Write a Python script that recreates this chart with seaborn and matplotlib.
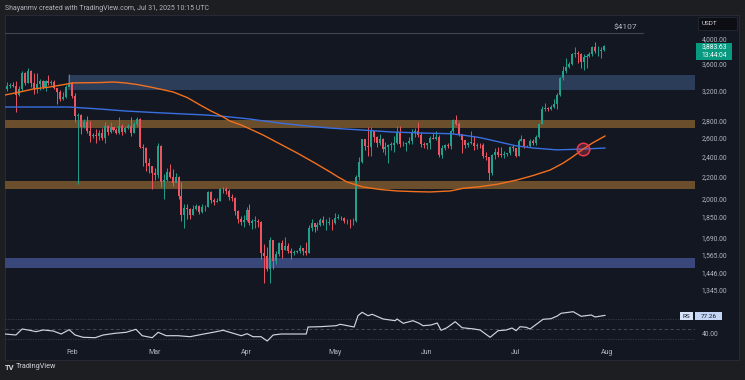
import numpy as np
import pandas as pd
import matplotlib
matplotlib.use("Agg")
import matplotlib.pyplot as plt
import matplotlib.dates as mdates
from matplotlib.patches import Rectangle
import seaborn as sns

# ---------------- data ----------------
start_date = "2025-01-10"
first_open = 3220
closes = [
    # Jan 10-31
    3265, 3282, 3265, 3136, 3225, 3450, 3308, 3474, 3307, 3214, 3284, 3327, 3240, 3339, 3306, 3316,
    3233, 3179, 3080, 3113, 3247, 3300,
    # Feb
    3123, 2868, 2880, 2733, 2785, 2686, 2622, 2632, 2628, 2660, 2600, 2740, 2675, 2725, 2694, 2660,
    2744, 2671, 2717, 2741, 2663, 2763, 2820, 2500, 2490, 2335, 2306, 2237,
    # Mar
    2218, 2515, 2150, 2170, 2240, 2200, 2140, 2200, 2020, 1865, 1920, 1910, 1865, 1910, 1935, 1885,
    1925, 1930, 2055, 1985, 1965, 1980, 2085, 2080, 2070, 2010, 2005, 1895, 1825, 1805, 1822,
    # Apr
    1905, 1795, 1815, 1815, 1805, 1580, 1555, 1470, 1670, 1525, 1570, 1645, 1595, 1625, 1590, 1575,
    1585, 1590, 1615, 1590, 1580, 1755, 1795, 1770, 1785, 1820, 1795, 1800, 1800, 1795,
    # May
    1840, 1840, 1835, 1810, 1815, 1810, 1810, 2200, 2345, 2585, 2510, 2500, 2680, 2610, 2545, 2590,
    2475, 2500, 2525, 2525, 2550, 2665, 2530, 2530, 2550, 2565, 2660, 2680, 2630, 2530, 2525,
    # Jun
    2540, 2605, 2595, 2610, 2415, 2485, 2520, 2510, 2680, 2815, 2770, 2645, 2580, 2525, 2545, 2550,
    2510, 2525, 2520, 2410, 2395, 2230, 2415, 2445, 2420, 2415, 2425, 2435, 2500, 2485,
    # Jul
    2405, 2570, 2590, 2510, 2515, 2570, 2540, 2615, 2770, 2950, 2960, 2945, 2970, 3010, 3140, 3370,
    3480, 3545, 3595, 3755, 3760, 3745, 3625, 3700, 3720, 3740, 3870, 3795, 3800, 3810, 3884,
]
highs = [
    3320, 3300, 3325, 3335, 3260, 3475, 3460, 3525, 3490, 3450, 3450, 3365, 3345, 3350, 3425, 3350,
    3345, 3235, 3210, 3180, 3280, 3440,
    3320, 3160, 2900, 2890, 2830, 2860, 2795, 2660, 2700, 2690, 2720, 2790, 2750, 2790, 2730, 2720,
    2850, 2760, 2735, 2770, 2845, 2790, 2850, 2835, 2530, 2500, 2380, 2300,
    2280, 2550, 2525, 2220, 2280, 2320, 2270, 2230, 2205, 2150, 1950, 1955, 1920, 1940, 1950, 1940,
    1955, 1940, 2070, 2070, 2000, 2000, 2090, 2105, 2100, 2080, 2040, 2015, 1900, 1850, 1860,
    1930, 1955, 1825, 1850, 1825, 1815, 1640, 1620, 1690, 1670, 1590, 1655, 1670, 1690, 1645, 1615,
    1600, 1600, 1635, 1615, 1655, 1785, 1830, 1800, 1805, 1835, 1850, 1830, 1845, 1830,
    1875, 1870, 1850, 1845, 1830, 1830, 1835, 2210, 2390, 2595, 2590, 2725, 2730, 2685, 2620, 2650,
    2600, 2560, 2535, 2555, 2620, 2735, 2735, 2570, 2560, 2610, 2710, 2715, 2785, 2670, 2560,
    2550, 2620, 2655, 2680, 2640, 2525, 2535, 2545, 2690, 2830, 2880, 2790, 2640, 2580, 2560, 2680,
    2620, 2540, 2550, 2545, 2445, 2390, 2425, 2490, 2505, 2500, 2455, 2440, 2515, 2520,
    2490, 2590, 2635, 2595, 2525, 2585, 2585, 2630, 2780, 2995, 3030, 2980, 3000, 3080, 3160, 3385,
    3550, 3680, 3620, 3765, 3860, 3790, 3760, 3745, 3755, 3780, 3880, 3940, 3880, 3865, 3900,
]
lows = [
    3190, 3235, 3240, 2910, 3125, 3195, 3270, 3300, 3250, 3150, 3160, 3200, 3215, 3190, 3280, 3280,
    3225, 3020, 3060, 3065, 3100, 3260,
    3095, 2785, 2125, 2650, 2720, 2660, 2560, 2600, 2550, 2580, 2580, 2540, 2630, 2660, 2680, 2650,
    2650, 2630, 2660, 2710, 2620, 2660, 2740, 2490, 2300, 2250, 2230, 2080,
    2170, 2190, 2100, 1995, 2160, 2190, 2110, 2150, 1995, 1810, 1760, 1830, 1830, 1860, 1905, 1870,
    1880, 1890, 1925, 1960, 1940, 1965, 1980, 2050, 2040, 1990, 1980, 1860, 1800, 1780, 1770,
    1815, 1780, 1750, 1760, 1765, 1540, 1385, 1460, 1385, 1470, 1505, 1560, 1545, 1595, 1580, 1535,
    1565, 1575, 1580, 1565, 1565, 1575, 1735, 1730, 1745, 1775, 1780, 1740, 1780, 1745,
    1790, 1825, 1820, 1800, 1790, 1755, 1785, 1805, 2170, 2330, 2465, 2400, 2410, 2555, 2505, 2520,
    2450, 2420, 2330, 2470, 2450, 2530, 2500, 2515, 2460, 2530, 2535, 2615, 2610, 2505, 2495,
    2480, 2480, 2585, 2580, 2390, 2380, 2470, 2485, 2480, 2655, 2750, 2620, 2440, 2490, 2500, 2530,
    2465, 2480, 2495, 2380, 2360, 2170, 2210, 2375, 2395, 2390, 2385, 2410, 2420, 2460,
    2395, 2410, 2565, 2495, 2500, 2505, 2520, 2525, 2600, 2765, 2930, 2920, 2935, 2960, 2945, 3120,
    3350, 3450, 3520, 3580, 3700, 3610, 3530, 3500, 3525, 3705, 3720, 3760, 3720, 3680, 3800,
]

# moving averages (day offset from start, price)
ma_orange_days = [-0.7, 4.4, 8.8, 14.5, 20.3, 22, 31.5, 35.9, 39.9, 44, 48.4, 52, 56.2, 61, 65.3, 69,
                  73.1, 75.4, 79, 82.2, 86.6, 92, 98.1, 104, 109.3, 112, 115, 120.4, 126, 131.9, 138,
                  143.1, 149.9, 154.3, 160, 166, 172.5, 178, 183.7, 188, 191, 194.9, 198, 202.3]
ma_orange_vals = [3136, 3177, 3218, 3247, 3289, 3305, 3310, 3318, 3305, 3282, 3247, 3215, 3177, 3100,
                  3002, 2925, 2850, 2800, 2755, 2705, 2635, 2540, 2437, 2335, 2243, 2195, 2148, 2102,
                  2080, 2066, 2060, 2057, 2066, 2090, 2105, 2128, 2167, 2210, 2263, 2330, 2390, 2479,
                  2545, 2624]
ma_blue_days = [-0.7, 21, 31.5, 40, 50, 60, 67, 74, 82, 92, 100, 109, 120, 130, 140, 150, 155, 160,
                166, 172, 178, 186, 195, 202.3]
ma_blue_vals = [2976, 2976, 2950, 2925, 2905, 2887, 2875, 2855, 2825, 2776, 2745, 2716, 2693, 2670,
                2658, 2650, 2630, 2605, 2560, 2515, 2490, 2470, 2479, 2490]

# oscillator (RS)
rs_days = [-0.7, 3, 5.1, 7.1, 9.8, 12.2, 15.6, 18.3, 21, 23, 25.7, 29.8, 32.5, 36.5, 40.3, 43.6, 45.7,
           49.1, 51.1, 53.8, 57.8, 61.9, 66, 69.7, 73.1, 76.5, 79.2, 81.2, 83.2, 85.9, 88, 90, 92.7,
           101.2, 101.8, 105.9, 111.3, 112.7, 117.4, 118.7, 120.1, 122.1, 123.5, 127.2, 131.3, 131.9,
           134, 137.3, 139.4, 140.7, 143.4, 145.5, 146.8, 148.8, 151.6, 153.9, 158, 160, 163.4, 166.1,
           168.8, 170.8, 172.2, 173.5, 175.6, 176.9, 181.3, 184, 186.1, 187.4, 191.5, 194.2, 197.6,
           198.9, 202.3]
rs_vals = [40, 38, 50, 48, 44.7, 48, 46, 40, 48.6, 38, 33.4, 32.6, 38, 41.4, 43.4, 49.4, 36.6, 32.6,
           43.4, 36.6, 36.6, 34.6, 39.4, 43.4, 47.4, 41.4, 36.6, 40.6, 34.6, 34.6, 26, 38, 40, 40, 54,
           54.6, 56.6, 59.4, 54, 76.6, 83.4, 76.6, 79.4, 70, 66.6, 70, 61.4, 66.6, 61.4, 56.6, 58, 62,
           47.4, 52.6, 64.6, 52.6, 50, 48, 33.4, 46.6, 48, 52, 46.6, 54.6, 53.4, 50, 69.4, 70.6, 76,
           81.4, 84.6, 75.4, 78, 74, 77.3]

# horizontal zones (low, high, starting day offset)
zones = [
    (3206, 3420, 20.6, "#2b3d58"),
    (2716, 2814, -0.7, "#6b4f2d"),
    (2086, 2156, -0.7, "#6b4f2d"),
    (1478, 1544, -0.7, "#39477a"),
]
ath_level = 4107
ath_end_day = 215
cross_day, cross_price = 194.9, 2479

price_ticks = [4000, 3600, 3200, 2800, 2600, 2400, 2200, 2000, 1850, 1690, 1565, 1446, 1345]
price_tick_labels = ["4,000.00", "3,600.00", "3,200.00", "2,800.00", "2,600.00", "2,400.00",
                     "2,200.00", "2,000.00", "1,850.00", "1,690.00", "1,565.00", "1,446.00", "1,345.00"]
month_ticks = ["2025-02-01", "2025-03-01", "2025-04-01", "2025-05-01", "2025-06-01", "2025-07-01", "2025-08-01"]
month_labels = ["Feb", "Mar", "Apr", "May", "Jun", "Jul", "Aug"]
last_price_label = "3,883.63"
countdown_label = "13:44:04"
rs_last_label = "77.26"

# ---------------- style ----------------
sns.set_theme(style="dark")
plt.rcParams["font.family"] = ["Roboto", "DejaVu Sans"]

W, H = 745, 380
fig = plt.figure(figsize=(W / 100, H / 100), dpi=100)
fig.patch.set_facecolor("#1d1e22")

def fx(px):
    return px / W

def fy(py):
    return 1 - py / H

panel_bg = "#131722"
txt_col = "#b2b5be"
up_col, dn_col = "#22a08c", "#ee5361"

# chart panel (behind the axes)
fig.patches.append(Rectangle((fx(5), fy(360)), fx(734), 345 / H, transform=fig.transFigure,
                             facecolor=panel_bg, edgecolor="#2a2e39", lw=0.6, zorder=-10))

start = pd.Timestamp(start_date)
n = len(closes)
dates = pd.date_range(start, periods=n, freq="D")
xd = mdates.date2num(dates)
x0 = mdates.date2num(start)
opens = np.array([first_open] + closes[:-1], dtype=float)
c = np.array(closes, dtype=float)
hi = np.array(highs, dtype=float)
lo = np.array(lows, dtype=float)
cols = np.where(c >= opens, up_col, dn_col)

xmin, xmax = x0 - 0.7, x0 + 232.7

# ---- price pane ----
ax = fig.add_axes([fx(5), fy(300), fx(690), 285 / H])
ax.set_facecolor("none")
ax.patch.set_alpha(0)
ax.set_yscale("log")
ax.set_xlim(xmin, xmax)
ax.set_ylim(1286, 4440)

for lo_z, hi_z, d0, colr in zones:
    ax.fill_between([x0 + d0, xmax], lo_z, hi_z, color=colr, lw=0, zorder=1)

ax.plot([xmin, x0 + ath_end_day], [ath_level, ath_level], color="#434651", lw=0.8, zorder=1)
ax.text(x0 + 213, ath_level * 1.012, "$4107", color=txt_col, fontsize=6, ha="right", va="bottom")

ax.vlines(xd, lo, hi, colors=cols, lw=0.7, zorder=3)
body_lo = np.minimum(opens, c)
body_h = np.maximum(np.abs(c - opens), c * 0.0025)
ax.bar(xd, body_h, bottom=body_lo, width=0.68, color=cols, lw=0, zorder=4)

ma_o = pd.DataFrame({"date": x0 + np.array(ma_orange_days), "v": ma_orange_vals})
ma_b = pd.DataFrame({"date": x0 + np.array(ma_blue_days), "v": ma_blue_vals})
sns.lineplot(data=ma_b, x="date", y="v", ax=ax, color="#3a6fe0", lw=1.0, sort=False, zorder=5)
sns.lineplot(data=ma_o, x="date", y="v", ax=ax, color="#f2701e", lw=1.0, sort=False, zorder=5)

ax.plot([x0 + cross_day], [cross_price], marker="o", ms=9, mfc=(0.95, 0.25, 0.35, 0.3),
        mec="#f0374a", mew=1.1, zorder=6)

ax.set_xlim(xmin, xmax)
ax.set_ylim(1286, 4440)
ax.set_yticks(price_ticks)
ax.set_yticklabels(price_tick_labels)
ax.yaxis.set_minor_locator(matplotlib.ticker.NullLocator())
ax.yaxis.tick_right()
ax.tick_params(axis="y", length=0, pad=5, labelsize=4.9, labelcolor=txt_col)
for lab in ax.get_yticklabels():
    lab.set_horizontalalignment("left")
ax.set_xticks([])
ax.set_xlabel("")
ax.set_ylabel("")
ax.grid(False)
for s in ax.spines.values():
    s.set_visible(False)

# ---- oscillator pane ----
ax2 = fig.add_axes([fx(5), fy(346), fx(690), 44 / H])
ax2.set_facecolor("none")
ax2.patch.set_alpha(0)
ax2.axhline(70, color="#3b3f4a", lw=0.6, ls=(0, (1.5, 1.5)))
ax2.axhline(30, color="#3b3f4a", lw=0.6, ls=(0, (1.5, 1.5)))
ax2.axhline(50, color="#4e525e", lw=0.6, ls=(0, (4, 3)))
rs = pd.DataFrame({"date": x0 + np.array(rs_days), "v": rs_vals})
sns.lineplot(data=rs, x="date", y="v", ax=ax2, color="#d1d4dc", lw=0.85, sort=False)
ax2.set_xlim(xmin, xmax)
ax2.set_ylim(16, 104)
ax2.set_yticks([40])
ax2.set_yticklabels(["40.00"])
ax2.yaxis.tick_right()
ax2.tick_params(axis="y", length=0, pad=5, labelsize=4.9, labelcolor=txt_col)
for lab in ax2.get_yticklabels():
    lab.set_horizontalalignment("left")
ax2.set_xticks(mdates.date2num(pd.to_datetime(month_ticks)))
ax2.set_xticklabels(month_labels)
ax2.tick_params(axis="x", length=0, pad=2.5, labelsize=5, labelcolor=txt_col)
ax2.set_xlabel("")
ax2.set_ylabel("")
ax2.grid(False)
for s in ax2.spines.values():
    s.set_visible(False)

# ---- header/footer & labels ----
fig.text(fx(5), fy(8), "Shayanmv created with TradingView.com, Jul 31, 2025 10:15 UTC",
         color=txt_col, fontsize=5.0, ha="left", va="center")
fig.text(fx(5), fy(367), "TV", color="#d1d4dc", fontsize=5.5, fontweight="bold", ha="left", va="center")
fig.text(fx(16), fy(367), "TradingView", color="#d1d4dc", fontsize=5.2, ha="left", va="center")

# USDT box
fig.patches.append(Rectangle((fx(698), fy(30)), fx(39), 13 / H, transform=fig.transFigure,
                             facecolor="#0c0e13", edgecolor="#2a2e39", lw=0.5, zorder=5))
fig.text(fx(702), fy(23.5), "USDT", color="#d1d4dc", fontsize=4.6, ha="left", va="center", zorder=6)

# last price label
fig.patches.append(Rectangle((fx(696), fy(60)), fx(36), 17 / H, transform=fig.transFigure,
                             facecolor="#089981", edgecolor="none", zorder=5))
fig.text(fx(714), fy(47), last_price_label, color="white", fontsize=4.8, ha="center", va="center", zorder=6)
fig.text(fx(714), fy(55.5), countdown_label, color="white", fontsize=4.8, ha="center", va="center", zorder=6)

# RS labels
fig.patches.append(Rectangle((fx(680), fy(320)), fx(13), 8 / H, transform=fig.transFigure,
                             facecolor="#d6e2f5", edgecolor="none", zorder=5))
fig.text(fx(686.5), fy(316), "RS", color="#131722", fontsize=4.6, ha="center", va="center", zorder=6)
fig.patches.append(Rectangle((fx(695), fy(320)), fx(27), 8 / H, transform=fig.transFigure,
                             facecolor="#c3d5f2", edgecolor="none", zorder=5))
fig.text(fx(708.5), fy(316), rs_last_label, color="#131722", fontsize=4.6, ha="center", va="center", zorder=6)

fig.savefig("out.png", dpi=100, facecolor=fig.get_facecolor())
